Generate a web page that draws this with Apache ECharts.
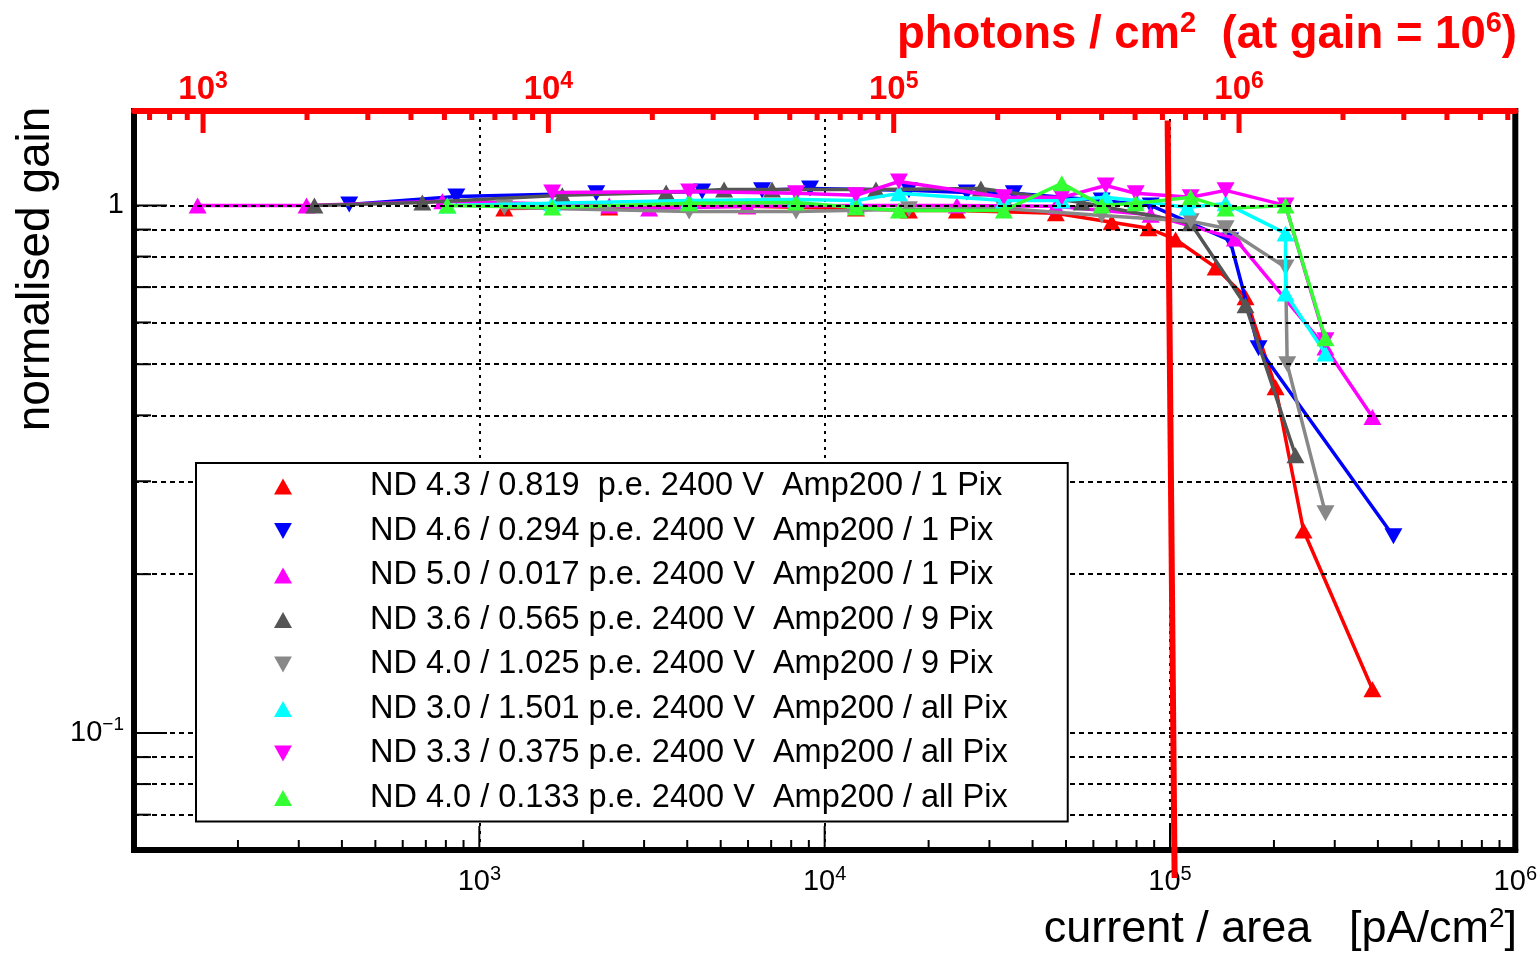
<!DOCTYPE html>
<html><head><meta charset="utf-8">
<script src="https://cdn.jsdelivr.net/npm/echarts@6/dist/echarts.min.js"></script>
<style>html,body{margin:0;padding:0;background:#fff}#c{width:1540px;height:954px}</style>
</head><body><div id="c"></div>
<script>
// ---------- axes ----------
const xRange = [100, 1e6];            // current / area [pA/cm2]
const yRange = [0.06, 1.51];          // normalised gain
const photonRange = [631, 6.31e6];    // photons / cm2 (top axis)
const xMajorTicks = [1e3, 1e4, 1e5];
const topMajorTicks = [1e3, 1e4, 1e5, 1e6];
const yMajorTicks = [1, 0.1];
const yMinorTicks = [0.9, 0.8, 0.7, 0.6, 0.5, 0.4, 0.3, 0.2, 0.09, 0.08, 0.07];
const yGridLines = [1, 0.9, 0.8, 0.7, 0.6, 0.5, 0.4, 0.3, 0.2, 0.1, 0.09, 0.08, 0.07];
const minorMultipliers = [2, 3, 4, 5, 6, 7, 8, 9];
const limitLine = [[98450, 1.449], [103150, 0.0531]];

// ---------- series ----------
const names = [
  'ND 4.3 / 0.819  p.e. 2400 V  Amp200 / 1 Pix',
  'ND 4.6 / 0.294 p.e. 2400 V  Amp200 / 1 Pix',
  'ND 5.0 / 0.017 p.e. 2400 V  Amp200 / 1 Pix',
  'ND 3.6 / 0.565 p.e. 2400 V  Amp200 / 9 Pix',
  'ND 4.0 / 1.025 p.e. 2400 V  Amp200 / 9 Pix',
  'ND 3.0 / 1.501 p.e. 2400 V  Amp200 / all Pix',
  'ND 3.3 / 0.375 p.e. 2400 V  Amp200 / all Pix',
  'ND 4.0 / 0.133 p.e. 2400 V  Amp200 / all Pix'
];
const colors = ['#ff0000', '#0000ff', '#ff00ff', '#555555', '#888888', '#00ffff', '#ff00ff', '#33ff33'];
const markerUp = [true, false, true, true, false, true, false, true];

const nd43_1pix = [[1181,0.987],[2378,0.991],[5962,0.996],[12320,0.987],[17540,0.978],[24150,0.978],[46700,0.966],[67800,0.929],[86700,0.905],[103800,0.862],[135600,0.763],[165500,0.670],[202200,0.452],[243600,0.242],[385700,0.121]];
const nd46_1pix = [[420,1.004],[858,1.040],[2181,1.054],[4418,1.063],[6587,1.068],[9070,1.077],[17540,1.068],[25800,1.058],[35300,1.054],[63430,1.022],[87900,1.000],[149300,0.858],[180500,0.536],[443700,0.236]];
const nd50_1pix = [[152.8,1.000],[316,1.000],[781.6,1.018],[2378,1.000],[3103,0.987],[5962,0.996],[12320,1.000],[24150,1.000],[46700,0.996],[87900,0.960],[154200,0.866],[282000,0.538],[385700,0.397]];
const nd36_9pix = [[333,1.000],[684,1.013],[1739,1.045],[3475,1.058],[5115,1.072],[7040,1.072],[14080,1.072],[28340,1.077],[55520,1.013],[114800,0.925],[165500,0.647],[230900,0.336]];
const nd40_9pix = [[1181,0.991],[4051,0.974],[8262,0.974],[17540,0.983],[33030,0.987],[63430,0.957],[114800,0.933],[144900,0.905],[216100,0.763],[218500,0.500],[282000,0.261]];
const nd30_all = [[808,1.000],[1626,1.009],[4051,1.022],[8262,1.026],[12320,1.022],[16410,1.054],[33030,1.022],[48600,1.022],[65150,1.036],[79600,1.022],[112300,0.991],[144900,1.009],[216100,0.885],[216100,0.681],[282000,0.524]];
const nd33_all = [[1626,1.058],[4051,1.063],[8262,1.054],[12320,1.045],[16410,1.110],[33030,1.036],[48600,1.036],[65150,1.091],[79600,1.054],[114800,1.036],[144900,1.068],[216100,1.000],[282000,0.555]];
const nd40_all = [[808,1.000],[1626,0.991],[4051,1.009],[8262,1.013],[12320,0.991],[16410,0.978],[33030,0.978],[48600,1.101],[63430,1.000],[79600,1.009],[114800,1.036],[144900,0.987],[216100,1.000],[282000,0.560]];
const seriesData = [nd43_1pix, nd46_1pix, nd50_1pix, nd36_9pix, nd40_9pix, nd30_all, nd33_all, nd40_all];

// ---------- build ----------
const FONT = '"Liberation Sans", Arial, Helvetica, sans-serif';
const UP = 'triangle';
const DOWN = 'path://M0,0L10,0L5,9Z';

function minorValues(lo, hi) {
  const out = [];
  for (let e = Math.floor(Math.log10(lo)); e <= Math.ceil(Math.log10(hi)); e++) {
    minorMultipliers.forEach(m => { const v = m * Math.pow(10, e); if (v > lo && v < hi) out.push(v); });
  }
  return out;
}
function isPow10(v) { const l = Math.log10(v); return Math.abs(l - Math.round(l)) < 1e-6; }
function powLabel(v, minExp) {
  if (!isPow10(v)) return '';
  const e = Math.round(Math.log10(v));
  if (e <= minExp) return '';
  if (e === 0) return '{n|1}';
  return '{n|10}{s|' + String(e).replace('-', '\u2212') + '}';
}
function tickSeries(data, xAxisIndex, dx, dy, color, width) {
  return {
    type: 'custom', xAxisIndex: xAxisIndex, yAxisIndex: 0, silent: true, z: 6, clip: false,
    data: data,
    renderItem: function (params, api) {
      const p = api.coord([api.value(0), api.value(1)]);
      return { type: 'line', shape: { x1: p[0], y1: p[1], x2: p[0] + dx, y2: p[1] + dy },
               style: { stroke: color, lineWidth: width } };
    }
  };
}

const series = [];
series.push({
  type: 'line', name: 'grid', data: [], silent: true, z: 1,
  markLine: { silent: true, symbol: 'none', label: { show: false },
    lineStyle: { color: '#000', type: [5, 4], width: 2 },
    data: yGridLines.map(v => ({ yAxis: v })) }
});
seriesData.forEach((d, i) => {
  series.push({
    type: 'line', name: names[i], data: d, z: 3 + i * 0.01,
    symbol: markerUp[i] ? UP : DOWN, symbolSize: [18, 16],
    lineStyle: { color: colors[i], width: 3.5 }, itemStyle: { color: colors[i] },
    showAllSymbol: true, animation: false
  });
});
series.push({ type: 'line', name: 'limit', data: limitLine, clip: false, symbol: 'none', z: 5,
  lineStyle: { color: '#ff0000', width: 6 } });
// ticks
series.push(tickSeries(minorValues(xRange[0], xRange[1]).map(v => [v, yRange[0]]), 0, 0, -10, '#000', 2));
series.push(tickSeries(xMajorTicks.map(v => [v, yRange[0]]), 0, 0, -24, '#000', 2));
series.push(tickSeries(yMinorTicks.map(v => [xRange[0], v]), 0, 17, 0, '#000', 2));
series.push(tickSeries(yMajorTicks.map(v => [xRange[0], v]), 0, 33, 0, '#000', 2));
series.push(tickSeries(minorValues(photonRange[0], photonRange[1]).map(v => [v, yRange[1]]), 1, 0, 9, '#ff0000', 5));
series.push(tickSeries(topMajorTicks.map(v => [v, yRange[1]]), 1, 0, 22, '#ff0000', 5));

const supRich = (size, supSize, supLH, color, weight) => ({
  n: { fontSize: size, lineHeight: size + 6, color: color, fontWeight: weight, fontFamily: FONT },
  s: { fontSize: supSize, lineHeight: supLH, verticalAlign: 'top', color: color, fontWeight: weight, fontFamily: FONT }
});

const option = {
  animation: false,
  backgroundColor: '#fff',
  grid: { left: 134, right: 23, top: 111, bottom: 104, show: true, borderColor: '#000', borderWidth: 6, backgroundColor: 'transparent' },
  xAxis: [
    { type: 'log', min: xRange[0], max: xRange[1], position: 'bottom',
      axisLine: { lineStyle: { color: '#000', width: 6 } }, axisTick: { show: false },
      splitLine: { show: true, lineStyle: { color: '#000', type: [3, 5], width: 2 } },
      axisLabel: { margin: 14, formatter: v => powLabel(v, 2), rich: supRich(29, 20, 10, '#000', 'normal') } },
    { type: 'log', min: photonRange[0], max: photonRange[1], position: 'top',
      axisLine: { lineStyle: { color: '#ff0000', width: 6 } }, axisTick: { show: false }, splitLine: { show: false },
      axisLabel: { margin: 2, formatter: v => powLabel(v, 2), rich: supRich(33, 23, 12, '#ff0000', 'bold') } }
  ],
  yAxis: [
    { type: 'log', min: yRange[0], max: yRange[1],
      axisLine: { lineStyle: { color: '#000', width: 6 } }, axisTick: { show: false }, splitLine: { show: false },
      axisLabel: { margin: 10, formatter: v => powLabel(v, -5), rich: supRich(29, 19, 10, '#000', 'normal') } }
  ],
  title: [
    { text: '{a|photons / cm}{s|2}{a|  (at gain = 10}{s|6}{a|)}', right: 23, top: 9, padding: 0,
      textStyle: { rich: {
        a: { fontSize: 45.5, lineHeight: 52, fontWeight: 'bold', color: '#ff0000', fontFamily: FONT },
        s: { fontSize: 29, lineHeight: 18, verticalAlign: 'top', fontWeight: 'bold', color: '#ff0000', fontFamily: FONT } } } },
    { text: '{a|current / area   [pA/cm}{s|2}{a|]}', right: 23, top: 905, padding: 0,
      textStyle: { fontWeight: 'normal', rich: {
        a: { fontSize: 45, lineHeight: 50, fontWeight: 'normal', color: '#000', fontFamily: FONT },
        s: { fontSize: 28, lineHeight: 18, verticalAlign: 'top', fontWeight: 'normal', color: '#000', fontFamily: FONT } } } }
  ],
  graphic: [
    { type: 'text', x: 36, y: 269, rotation: Math.PI / 2, z: 10,
      style: { text: 'normalised gain', font: '46px ' + FONT, fill: '#000', align: 'center', verticalAlign: 'middle' } }
  ],
  legend: {
    orient: 'vertical', left: 196, top: 463, padding: [7, 60, 7, 78],
    itemWidth: 18, itemHeight: 16, itemGap: 11.5, selectedMode: false,
    backgroundColor: '#fff', borderColor: '#000', borderWidth: 2, borderRadius: 0, z: 8,
    formatter: name => '{g|}{t|' + name + '}',
    textStyle: { rich: { g: { width: 73 }, t: { fontSize: 32.5, lineHeight: 30, color: '#000', fontFamily: FONT } } },
    data: names.map((n, i) => ({ name: n, icon: markerUp[i] ? UP : DOWN, itemStyle: { color: colors[i] } }))
  },
  series: series
};

const chart = echarts.init(document.getElementById('c'), null, { renderer: 'canvas' });
chart.setOption(option);
</script>
</body></html>
